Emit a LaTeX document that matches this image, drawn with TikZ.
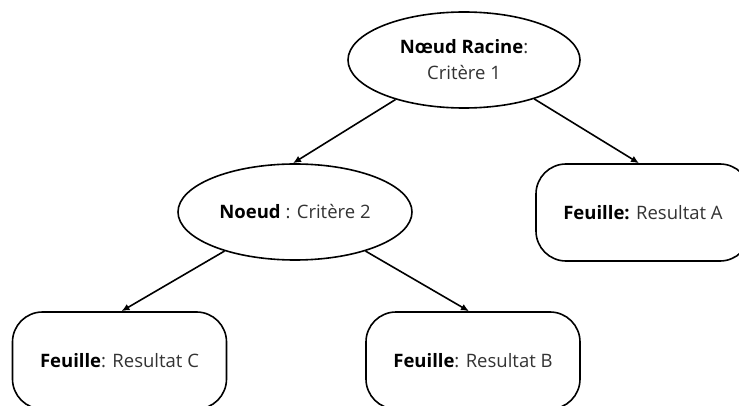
\documentclass[tikz,border=0pt]{standalone}
\usepackage{fontspec}
\setmainfont{Open Sans}
\usetikzlibrary{shapes.geometric,arrows.meta}
\definecolor{txtgrey}{HTML}{333333}
\tikzset{
  crit/.style={draw, line width=1.6pt, ellipse, minimum width=232pt, minimum height=96pt, inner sep=0pt, align=center, font=\fontsize{18.5}{26}\selectfont, text=txtgrey},
  leaf/.style={draw, line width=1.6pt, rounded corners=30pt, minimum width=214pt, minimum height=97pt, inner sep=0pt, align=center, font=\fontsize{18.5}{26}\selectfont, text=txtgrey},
  link/.style={line width=1.6pt, -{Latex[length=8pt,width=7pt]}},
}
\begin{document}
\begin{tikzpicture}[x=1pt,y=-1pt]
  \useasboundingbox (0,0) rectangle (739,406);
  \clip (0,0) rectangle (739,406);
  \fill[white] (0,0) rectangle (739,406);
  \node[crit] (root) at (464,60) {\textbf{\color{black}Nœud Racine}:\\Critère 1};
  \node[crit, minimum width=234pt] (crit2) at (295,212) {\textbf{\color{black}Noeud} : Critère 2};
  \node[leaf] (leafA) at (643,212.5) {\textbf{\color{black}Feuille:} Resultat A};
  \node[leaf] (leafB) at (473,360.5) {\textbf{\color{black}Feuille}: Resultat B};
  \node[leaf] (leafC) at (119.5,360.5) {\textbf{\color{black}Feuille}: Resultat C};
  \draw[link] (root.210.8) -- ([xshift=-2pt]crit2.north);
  \draw[link] (root.331) -- ([xshift=-4pt]leafA.north);
  \draw[link] (crit2.209) -- ([xshift=2pt]leafC.north);
  \draw[link] (crit2.331) -- ([xshift=-4pt]leafB.north);
\end{tikzpicture}
\end{document}
